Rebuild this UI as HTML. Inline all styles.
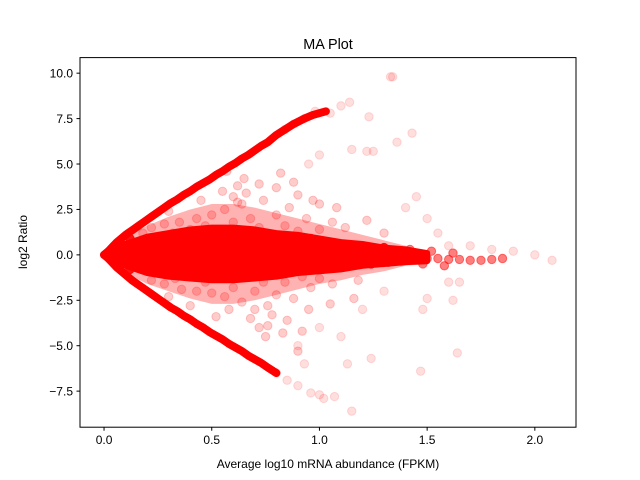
<!DOCTYPE html>
<html><head><meta charset="utf-8">
<style>
body{margin:0;background:#fff;}
svg{display:block;font-family:"Liberation Sans","DejaVu Sans",sans-serif;}
</style></head>
<body>
<svg id="chart" width="640" height="480">
<rect x="0" y="0" width="640" height="480" fill="#fff"/>
<text x="328" y="49" font-size="14.4" text-anchor="middle">MA Plot</text>
<g id="marks"></g>
<rect x="80" y="57.6" width="496" height="369.6" fill="none" stroke="#000" stroke-width="1"/>
<g id="axes"></g>
<text x="328" y="468" font-size="12" text-anchor="middle">Average log10 mRNA abundance (FPKM)</text>
<text transform="translate(27,242) rotate(-90)" font-size="12" text-anchor="middle">log2 Ratio</text>
</svg>
<script>
const xTicks=[0.0,0.5,1.0,1.5,2.0];
const xTickLabels=["0.0","0.5","1.0","1.5","2.0"];
const yTicks=[-7.5,-5.0,-2.5,0.0,2.5,5.0,7.5,10.0];
const yTickLabels=["−7.5","−5.0","−2.5","0.0","2.5","5.0","7.5","10.0"];
// density band of the overlapping cloud (x, upper/lower extent)
const bandX=[0.01,0.05,0.1,0.2,0.3,0.4,0.5,0.6,0.7,0.8,0.9,1.0,1.1,1.2,1.3,1.4,1.5];
const bandHi=[0.05,0.3,0.6,1.0,1.2,1.4,1.5,1.5,1.4,1.2,1.1,0.9,0.7,0.6,0.4,0.3,0.1];
const bandLo=[-0.05,-0.3,-0.6,-1.0,-1.2,-1.3,-1.4,-1.4,-1.3,-1.2,-1.0,-0.9,-0.8,-0.6,-0.5,-0.4,-0.35];
const haloHi=[0.1,0.6,1.0,1.6,2.1,2.5,2.8,2.8,2.6,2.3,2.0,1.7,1.4,1.1,0.8,0.5,0.2];
const haloLo=[-0.1,-0.6,-1.0,-1.6,-2.0,-2.4,-2.7,-2.7,-2.5,-2.2,-1.9,-1.6,-1.4,-1.1,-0.9,-0.6,-0.5];
// core dense cloud
const coreX=[0.05,0.05,0.08,0.08,0.1,0.12,0.12,0.15,0.15,0.18,0.2,0.2,0.25,0.25,0.27,0.3,0.3,0.35,0.38,0.38,0.42,0.45,0.45,0.5,0.52,0.52,0.58,0.58,0.6,0.62,0.62,0.66,0.66,0.68,0.7,0.72,0.76,0.78,0.78,0.82,0.82,0.86,0.88,0.9,0.92,0.94,0.96,0.98,0.98,1.02,1.04,1.04,1.08,1.1,1.1,1.12,1.14,1.16,1.18,1.2,1.22,1.24,1.26,1.28,1.3,1.32,1.35,1.38];
const coreY=[0.3,-0.3,0.6,-0.5,0,0.9,-0.8,0.3,-0.4,0.8,0.5,-0.2,0.8,-0.7,0.1,0.4,-0.9,0,0.7,-0.5,0.2,0.9,-0.8,0.1,0.6,-0.4,0,0.9,-0.9,0.4,-0.3,1.0,-1.0,0.2,0.7,-0.6,0,1.0,-0.9,0.4,-0.4,0.1,0.8,-0.8,0.3,-0.2,0.9,0.5,-0.6,0.1,0.7,-0.7,0.3,-0.3,0.6,-0.5,0.5,-0.5,0.4,-0.1,0.4,-0.5,0.2,-0.3,0.4,-0.4,0,-0.2];
// scattered spread
const spreadX=[0.18,0.22,0.22,0.28,0.28,0.32,0.33,0.35,0.36,0.4,0.4,0.43,0.43,0.47,0.47,0.5,0.5,0.54,0.54,0.56,0.56,0.6,0.6,0.64,0.64,0.68,0.7,0.72,0.74,0.74,0.76,0.8,0.8,0.84,0.84,0.86,0.88,0.9,0.92,0.94,0.96,1.0,1.0,1.06,1.06,0.55,0.62,0.68,0.72,0.8,0.85,0.9,0.95,1.0,1.05,0.45,0.4,0.3,0.3,0.58,0.65,0.75,0.82,1.12,1.18,1.22,1.3,0.6,0.66,0.7,0.78,0.88,0.92,1.08,1.16,0.52,0.62,0.72,0.83,0.97,0.57,0.76,0.9];
const spreadY=[1.2,1.5,-1.4,1.7,-1.6,1.2,-1.3,1.8,-1.9,1.4,-1.2,2.0,-2.0,1.6,-1.5,2.2,-2.1,1.3,-1.2,2.5,-2.3,1.8,-1.8,2.8,-2.6,2.0,-2.0,1.5,-1.5,3.0,-2.8,2.2,-2.2,1.6,-1.5,2.6,-2.4,1.3,-1.2,2.0,-1.8,1.4,-1.3,1.8,-1.6,3.5,3.8,-3.5,-4.0,3.7,-3.6,3.3,-3.0,2.8,-2.7,3.0,-2.8,2.4,-2.3,-3.0,4.2,-4.5,4.5,1.5,-1.4,1.9,1.2,3.2,3.4,-3.0,-3.3,4.0,-4.2,2.6,-2.4,-3.4,2.9,3.9,-4.3,3.0,4.6,-3.9,-5.3];
// envelope arms
const upperX=[0,0.02,0.04,0.06,0.08,0.1,0.13,0.16,0.19,0.22,0.25,0.28,0.31,0.34,0.37,0.4,0.43,0.46,0.49,0.52,0.55,0.58,0.61,0.64,0.67,0.7,0.73,0.76,0.8,0.84,0.88,0.93,0.97,1.03];
const upperY=[0,0.2,0.45,0.7,0.9,1.1,1.35,1.6,1.85,2.1,2.35,2.6,2.85,3.05,3.3,3.5,3.75,3.95,4.15,4.4,4.6,4.85,5.05,5.3,5.5,5.75,6.0,6.2,6.6,6.9,7.2,7.5,7.7,7.9];
const lowerX=[0,0.02,0.04,0.06,0.08,0.1,0.13,0.16,0.19,0.22,0.25,0.28,0.31,0.34,0.37,0.4,0.43,0.46,0.49,0.52,0.55,0.58,0.61,0.64,0.67,0.7,0.73,0.76,0.8];
const lowerY=[0,-0.2,-0.45,-0.7,-0.9,-1.1,-1.4,-1.65,-1.9,-2.15,-2.4,-2.65,-2.9,-3.1,-3.35,-3.55,-3.8,-4.0,-4.25,-4.45,-4.65,-4.9,-5.1,-5.3,-5.55,-5.75,-5.95,-6.2,-6.5];
// sparse outliers
const outX=[1.33,1.34,1.1,1.14,1.05,1.23,1.15,1.22,1.25,1.43,1.36,1.45,1.4,1.5,1.55,1.6,1.6,1.65,1.62,1.48,1.5,1.64,1.47,1.24,1.13,1.15,1.07,1.0,0.93,1.1,1.2,1.3,2.0,2.08,1.9,1.8,1.7,0.9,1.0,0.95,1.0,0.8,0.85,0.9,0.96,1.02,0.84,0.88,0.93,0.98];
const outY=[9.8,9.8,8.2,8.4,7.8,7.6,5.8,5.7,5.7,6.7,6.2,3.2,2.6,2.0,1.2,0.5,-1.5,-1.5,-2.5,-3.0,-2.4,-5.4,-6.4,-5.7,-6.0,-8.6,-7.8,-7.7,-6.0,-4.5,-3.0,-2.0,0.0,-0.3,0.2,0.3,0.5,-5.0,-4.0,5.0,5.5,-6.5,-6.9,-7.2,-7.6,-7.9,6.9,7.2,7.5,7.9];
// high-abundance tail
const tailX=[1.4,1.45,1.5,1.55,1.6,1.65,1.7,1.75,1.8,1.85,1.42,1.48,1.52,1.58,1.62,1.36,1.38,1.44];
const tailY=[-0.1,-0.15,-0.2,-0.2,-0.25,-0.25,-0.3,-0.3,-0.25,-0.2,0.3,-0.5,0.2,-0.6,0.1,0.15,-0.35,0.05];

const X0=80,X1=576,Y0=427.2,Y1=57.6;
const xmin=-0.1116,xmax=2.1911,ymin=-9.485,ymax=10.857;
function sx(v){return X0+(v-xmin)/(xmax-xmin)*(X1-X0);}
function sy(v){return Y0-(v-ymin)/(ymax-ymin)*(Y0-Y1);}
const NS="http://www.w3.org/2000/svg";
const marks=document.getElementById('marks');
function drawBand(xs,hi,lo,op,sw,name){
  let d='';
  for(let i=0;i<xs.length;i++)d+=(i?'L':'M')+sx(xs[i])+' '+sy(hi[i]);
  for(let i=xs.length-1;i>=0;i--)d+='L'+sx(xs[i])+' '+sy(lo[i]);
  const p=document.createElementNS(NS,'path');
  p.setAttribute('d',d+'Z');
  p.setAttribute('fill','rgba(255,0,0,'+op+')');
  if(sw>0){p.setAttribute('stroke','rgba(255,0,0,'+op+')');p.setAttribute('stroke-width',sw);p.setAttribute('stroke-linejoin','round');}
  
  
  marks.appendChild(p);
}
function drawArm(xs,ys,name){
  let d='';
  for(let i=0;i<xs.length;i++)d+=(i?'L':'M')+sx(xs[i])+' '+sy(ys[i]);
  const p=document.createElementNS(NS,'path');
  p.setAttribute('d',d);
  p.setAttribute('fill','none');
  p.setAttribute('stroke','#ff0000');
  p.setAttribute('stroke-width','8');
  p.setAttribute('stroke-linecap','round');
  p.setAttribute('stroke-linejoin','round');
  
  
  marks.appendChild(p);
}
function drawSeries(xs,ys,op,name){
  const g=document.createElementNS(NS,'g');
  
  
  for(let i=0;i<xs.length;i++){
    const c=document.createElementNS(NS,'circle');
    c.setAttribute('cx',sx(xs[i]));c.setAttribute('cy',sy(ys[i]));
    c.setAttribute('r',4.2);
    c.setAttribute('fill','rgba(255,0,0,'+op+')');
    c.setAttribute('stroke','rgba(255,0,0,'+op+')');
    
    
    g.appendChild(c);
  }
  marks.appendChild(g);
}
drawBand(bandX,haloHi,haloLo,0.3,0,'cloud-halo');
drawSeries(spreadX,spreadY,0.2,'spread-points');
drawSeries(outX,outY,0.13,'outlier-points');
drawSeries(tailX,tailY,0.5,'tail-points');
drawBand(bandX,bandHi,bandLo,1,6,'cloud-core');
drawSeries(coreX,coreY,0.9,'core-points');
drawArm(upperX,upperY,'upper-arm');
drawArm(lowerX,lowerY,'lower-arm');

const axes=document.getElementById('axes');
xTicks.forEach((t,i)=>{
  const x=sx(t);
  const l=document.createElementNS(NS,'line');
  l.setAttribute('x1',x);l.setAttribute('x2',x);l.setAttribute('y1',Y0);l.setAttribute('y2',Y0+3.5);
  l.setAttribute('stroke','#000');
  
  
  axes.appendChild(l);
  const tx=document.createElementNS(NS,'text');
  tx.setAttribute('x',x);tx.setAttribute('y',Y0+17);tx.setAttribute('font-size','12');tx.setAttribute('text-anchor','middle');
  tx.textContent=xTickLabels[i];
  
  
  axes.appendChild(tx);
});
yTicks.forEach((t,i)=>{
  const y=sy(t);
  const l=document.createElementNS(NS,'line');
  l.setAttribute('x1',X0-3.5);l.setAttribute('x2',X0);l.setAttribute('y1',y);l.setAttribute('y2',y);
  l.setAttribute('stroke','#000');
  
  
  axes.appendChild(l);
  const tx=document.createElementNS(NS,'text');
  tx.setAttribute('x',X0-7);tx.setAttribute('y',y+4.3);tx.setAttribute('font-size','12');tx.setAttribute('text-anchor','end');
  tx.textContent=yTickLabels[i];
  
  
  axes.appendChild(tx);
});
</script>
</body></html>
